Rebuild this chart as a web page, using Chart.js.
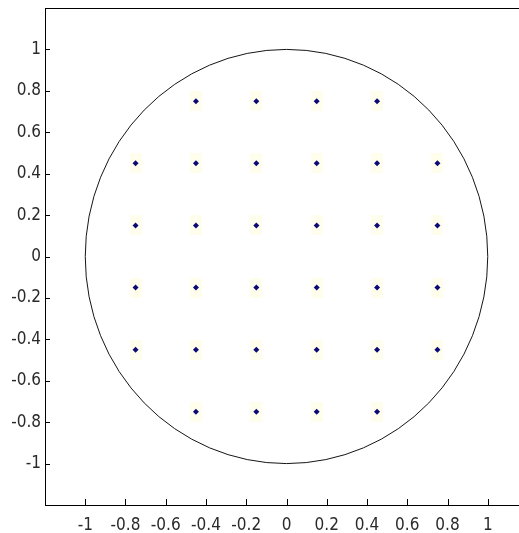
<!DOCTYPE html>
<html>
<head>
<meta charset="utf-8">
<script src="https://cdn.jsdelivr.net/npm/chart.js@4/dist/chart.umd.min.js"></script>
<style>
  html, body { margin: 0; padding: 0; overflow: hidden; background: #fff; }
  canvas { display: block; }
</style>
</head>
<body>
<canvas id="c" width="536" height="533"></canvas>
<script>
// Axis ticks shared by both axes
const tickValues = [-1, -0.8, -0.6, -0.4, -0.2, 0, 0.2, 0.4, 0.6, 0.8, 1];
const tickLabels = ['-1', '-0.8', '-0.6', '-0.4', '-0.2', '0', '0.2', '0.4', '0.6', '0.8', '1'];
const axisMin = -1.2;
const axisMax = 1.2;

// Boundary circle (centre and radius in data units)
const circleCenter = [0, 0];
const circleRadius = 1;

// Sample grid: one y level per row, with the x positions of that row
const rowY = [0.75, 0.45, 0.15, -0.15, -0.45, -0.75];
const rowX = [
  [-0.45, -0.15, 0.15, 0.45],
  [-0.75, -0.45, -0.15, 0.15, 0.45, 0.75],
  [-0.75, -0.45, -0.15, 0.15, 0.45, 0.75],
  [-0.75, -0.45, -0.15, 0.15, 0.45, 0.75],
  [-0.75, -0.45, -0.15, 0.15, 0.45, 0.75],
  [-0.45, -0.15, 0.15, 0.45]
];

const points = rowY.flatMap((y, i) => rowX[i].map(x => ({ x, y })));

// Faint pale backdrop drawn behind each marker
const halo = document.createElement('canvas');
halo.width = 12; halo.height = 20;
(function () {
  const h = halo.getContext('2d');
  h.fillStyle = 'rgba(255, 252, 222, 0.6)';
  h.fillRect(0, 0, 12, 20);
})();

const FONT = "'Liberation Sans Narrow', 'Arial Narrow', 'DejaVu Sans Condensed', sans-serif";

const frame = {
  id: 'frame',
  beforeDatasetsDraw(chart) {
    const { ctx, scales: { x, y } } = chart;
    const cx = x.getPixelForValue(circleCenter[0]);
    const cy = y.getPixelForValue(circleCenter[1]);
    const rx = Math.abs(x.getPixelForValue(circleCenter[0] + circleRadius) - cx);
    const ry = Math.abs(y.getPixelForValue(circleCenter[1] + circleRadius) - cy);
    ctx.save();
    ctx.strokeStyle = '#151515';
    ctx.lineWidth = 1;
    ctx.beginPath();
    ctx.ellipse(cx, cy, rx, ry, 0, 0, Math.PI * 2);
    ctx.stroke();
    ctx.restore();
  },
  afterDraw(chart) {
    const { ctx, chartArea: a, scales: { x, y } } = chart;
    ctx.save();
    ctx.strokeStyle = '#000';
    ctx.lineWidth = 1;
    ctx.beginPath();
    // top edge of the box
    ctx.moveTo(a.left, a.top + 0.5);
    ctx.lineTo(a.right, a.top + 0.5);
    // inward tick marks
    x.ticks.forEach(t => {
      const px = Math.round(x.getPixelForValue(t.value)) + 0.5;
      ctx.moveTo(px, a.bottom);
      ctx.lineTo(px, a.bottom - 6);
    });
    y.ticks.forEach(t => {
      const py = Math.round(y.getPixelForValue(t.value)) + 0.5;
      ctx.moveTo(a.left, py);
      ctx.lineTo(a.left + 5, py);
    });
    ctx.stroke();
    ctx.restore();
  }
};

const axisCommon = {
  type: 'linear',
  min: axisMin,
  max: axisMax,
  afterBuildTicks(scale) { scale.ticks = tickValues.map(v => ({ value: v })); },
  grid: { display: false, drawTicks: false },
  border: { display: true, color: '#000', width: 1 },
  ticks: {
    color: '#2a2a2a',
    font: { family: FONT, size: 17 },
    callback: (v, i) => tickLabels[i]
  }
};

function noPad(scale) {
  scale.paddingTop = 0;
  scale.paddingBottom = 0;
  scale.paddingLeft = 0;
  scale.paddingRight = 0;
}

new Chart(document.getElementById('c'), {
  type: 'scatter',
  data: {
    datasets: [
      {
        data: points,
        order: 0,
        pointStyle: 'rectRot',
        pointRadius: 3,
        pointHoverRadius: 3,
        backgroundColor: '#0b0b78',
        borderColor: '#0b0b78',
        borderWidth: 0
      },
      {
        data: points,
        order: 1,
        pointStyle: halo,
        pointRadius: 7,
        pointHoverRadius: 7
      }
    ]
  },
  options: {
    responsive: false,
    animation: false,
    devicePixelRatio: 1,
    layout: { padding: { top: 7, left: 0, right: 3, bottom: 0 } },
    plugins: { legend: { display: false }, tooltip: { enabled: false } },
    scales: {
      x: Object.assign({}, axisCommon, {
        position: 'bottom',
        ticks: Object.assign({}, axisCommon.ticks, { padding: 10, maxRotation: 0 }),
        afterFit(scale) { scale.height = 28; noPad(scale); }
      }),
      y: Object.assign({}, axisCommon, {
        position: 'left',
        ticks: Object.assign({}, axisCommon.ticks, { padding: 4 }),
        afterFit(scale) { scale.width = 45; noPad(scale); }
      })
    }
  },
  plugins: [frame]
});
</script>
</body>
</html>
